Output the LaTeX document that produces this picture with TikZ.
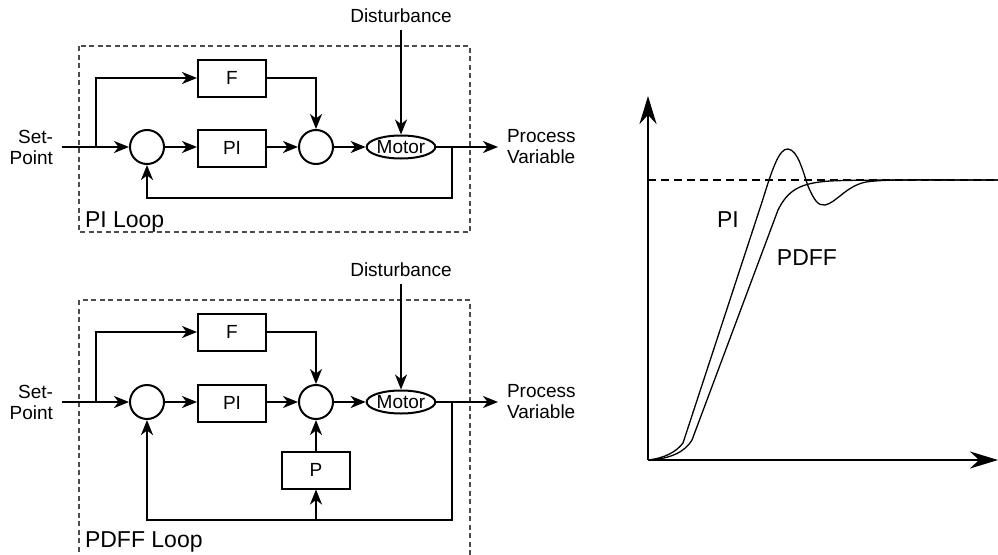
\documentclass[tikz,border=0pt]{standalone}
\usepackage{fontspec}
\setmainfont{Liberation Sans}
\usetikzlibrary{arrows.meta,shapes.geometric}
\begin{document}
\begin{tikzpicture}[x=1pt,y=-1pt,line width=2pt,
  arr/.style={-{Stealth[length=15pt,width=12pt,inset=4.5pt]}},
  axarr/.style={-{Stealth[length=28pt,width=17pt,inset=9pt]}},
  blk/.style={draw,minimum width=68pt,minimum height=37pt,inner sep=0pt,font=\fontsize{19}{21}\selectfont},
  sumc/.style={draw,circle,minimum size=34pt,inner sep=0pt},
  mot/.style={draw,ellipse,minimum width=68pt,minimum height=23pt,inner sep=0pt,font=\fontsize{19}{21}\selectfont},
  txt/.style={font=\fontsize{19}{21}\selectfont,inner sep=0pt},
  big/.style={font=\fontsize{23}{26}\selectfont,inner sep=0pt},
  frame/.style={draw=black!70,line width=1.2pt,dash pattern=on 5pt off 3.5pt}]
\useasboundingbox (0,0) rectangle (998,554);

% PI loop
\draw[frame] (79,46) rectangle (470,232);
\node[big,anchor=base west] (lp1) at (84,227) {PI Loop};
\node[txt,align=right,anchor=east] (sp1) at (54,147) {Set-\\Point};
\node[txt,align=left,anchor=west] (pv1) at (506,147) {Process\\Variable};
\node[txt,inner ysep=6pt] (dist1) at (401,16) {Disturbance};
\coordinate (in1) at (62,147);
\coordinate (br1) at (96,147);
\coordinate (tap1) at (452,147);
\coordinate (fb1) at (452,198);
\coordinate (out1) at (498,147);
\node[sumc] (sa1) at (147,147) {};
\node[blk] (f1) at (232,78) {F};
\node[blk] (pi1) at (232,148) {PI};
\node[sumc] (sb1) at (316,147) {};
\node[mot] (m1) at (401,147) {Motor};

\draw[arr] (in1) -- (sa1);
\draw[arr] (br1) |- (f1);
\draw[arr] (sa1) -- (pi1.west |- sa1);
\draw[arr] (pi1.east |- sb1) -- (sb1);
\draw[arr] (f1.east) -| (sb1);
\draw[arr] (sb1) -- (m1);
\draw[arr] (m1) -- (out1);
\draw[arr] (dist1.south) -- (m1.north);
\draw[arr] (tap1) -- (fb1) -| (sa1);

% PDFF loop
\draw[frame] (79,560) -- (79,300) -- (470,300) -- (470,560);
\node[big,anchor=base west] (lp2) at (84,547) {PDFF Loop};
\node[txt,align=right,anchor=east] (sp2) at (54,402) {Set-\\Point};
\node[txt,align=left,anchor=west] (pv2) at (506,402) {Process\\Variable};
\node[txt,inner ysep=6pt] (dist2) at (401,270) {Disturbance};
\coordinate (in2) at (62,402);
\coordinate (br2) at (96,402);
\coordinate (tap2) at (452,402);
\coordinate (fb2) at (452,520);
\coordinate (pb2) at (316,520);
\coordinate (out2) at (498,402);
\node[sumc] (sa2) at (147,402) {};
\node[blk] (f2) at (232,332) {F};
\node[blk] (pi2) at (232,403) {PI};
\node[sumc] (sb2) at (316,402) {};
\node[mot] (m2) at (401,402) {Motor};
\node[blk] (p2) at (316,470) {P};

\draw[arr] (in2) -- (sa2);
\draw[arr] (br2) |- (f2);
\draw[arr] (sa2) -- (pi2.west |- sa2);
\draw[arr] (pi2.east |- sb2) -- (sb2);
\draw[arr] (f2.east) -| (sb2);
\draw[arr] (sb2) -- (m2);
\draw[arr] (m2) -- (out2);
\draw[arr] (dist2.south) -- (m2.north);
\draw[arr] (tap2) -- (fb2) -| (sa2);
\draw[arr] (pb2) -- (p2);
\draw[arr] (p2) -- (sb2);

% step response
\coordinate (org) at (648,460);
\coordinate (ytop) at (648,96);
\coordinate (xend) at (998,460);
\draw[line width=1.4pt,dash pattern=on 8pt off 5pt] (648,180) -- (998,180);
\draw[line width=1.3pt] (org) .. controls (665,458) and (676,452) .. (683,443)
  -- (762,202) .. controls (772,170) and (779,148) .. (788,149)
  .. controls (798,150) and (803,172) .. (808,186)
  .. controls (814,200) and (818,206) .. (825,205)
  .. controls (836,203) and (846,186) .. (866,182)
  .. controls (886,179) and (920,180) .. (998,180);
\draw[line width=1.3pt] (org) .. controls (670,459) and (685,452) .. (692,440)
  -- (778,210) .. controls (788,190) and (800,183) .. (830,181)
  .. controls (850,180) and (880,180) .. (998,180);
\node[big] (lpi) at (728,220) {PI};
\node[big] (lpd) at (807,258) {PDFF};
\draw[axarr,line width=2.8pt] (org) -- (ytop);
\draw[axarr,line width=2.8pt] (org) -- (xend);
\end{tikzpicture}
\end{document}
